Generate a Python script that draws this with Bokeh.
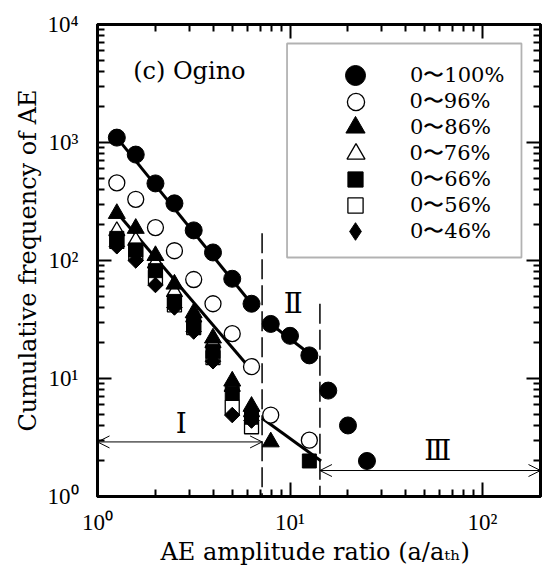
from bokeh.plotting import figure
from bokeh.models import (LogAxis, FixedTicker, CustomJSTickFormatter, Legend, LegendItem,
                          Label, Arrow, OpenHead, Range1d, BoxAnnotation)
from bokeh.embed import file_html
from bokeh.resources import INLINE
import math

FONT = "DejaVu Serif"
TICKFONT = "Liberation Serif"

# ---- data ----
s100_x = [1.26, 1.58, 2.0, 2.51, 3.16, 3.98, 5.01, 6.31, 7.94, 10.0, 12.6, 15.8, 20.0, 25.1]
s100_y = [1100, 790, 450, 305, 180, 117, 70, 43, 29, 23, 15.7, 7.9, 4.0, 2.0]

s96_x = [1.26, 1.58, 2.0, 2.51, 3.16, 3.98, 5.01, 6.31, 7.94, 12.6]
s96_y = [455, 330, 190, 121, 69, 43, 24, 12.6, 4.9, 3.0]

s86_x = [1.26, 1.58, 2.0, 2.51, 3.16, 3.98, 5.01, 6.31, 7.94]
s86_y = [250, 187, 110, 63, 36, 22, 9.5, 5.8, 2.9]

s76_x = [1.26, 1.58, 2.0, 2.51, 3.16, 3.98, 5.01, 6.31]
s76_y = [178, 147, 95, 54, 33, 20, 8.5, 5.2]

s66_x = [1.26, 1.58, 2.0, 2.51, 3.16, 3.98, 5.01, 6.31, 12.6]
s66_y = [154, 123, 82, 45, 29, 17, 7.5, 4.7, 2.0]

s56_x = [1.26, 1.58, 2.0, 2.51, 3.16, 3.98, 5.01, 6.31]
s56_y = [145, 115, 72, 42, 27, 15, 5.7, 3.9]

s46_x = [1.26, 1.58, 2.0, 2.51, 3.16, 3.98, 5.01, 6.31]
s46_y = [132, 100, 62, 40, 25, 14, 4.9, 4.4]

series_labels = ["0〜100%", "0〜96%", "0〜86%", "0〜76%", "0〜66%", "0〜56%", "0〜46%"]

# fitted lines
fit_I_upper_x = [1.26, 6.31]
fit_I_upper_y = [1100, 43]
fit_II_upper_x = [7.94, 13.8]
fit_II_upper_y = [29, 14.5]
fit_I_lower_x = [1.26, 5.85]
fit_I_lower_y = [255, 13.6]
fit_II_lower_x = [7.16, 14.5]
fit_II_lower_y = [4.6, 2.0]

# region boundaries (dashed) and their top ends
bound_x = [7.16, 14.3]
bound_top = [170, 43]

x_major = [1, 10, 100]
y_major = [1, 10, 100, 1000, 10000]

# ---- figure ----
FL, FT, FR, FB = 97, 24, 13, 74
p = figure(width=553, height=570, x_axis_type="log", y_axis_type="log",
           x_range=Range1d(1, 200), y_range=Range1d(1, 1e4),
           output_backend="svg", toolbar_location=None,
           min_border_left=FL, min_border_right=FR, min_border_top=FT, min_border_bottom=FB)
p.grid.visible = False
p.outline_line_color = "black"
p.outline_line_width = 3
p.background_fill_color = "white"
p.border_fill_color = "white"

x_minor = [m * 10 ** e for e in range(0, 3) for m in range(2, 10) if m * 10 ** e <= 200]
y_minor = [m * 10 ** e for e in range(0, 4) for m in range(2, 10)]

sup_fmt = CustomJSTickFormatter(code="const s='⁰¹²³⁴⁵⁶⁷⁸⁹'; const e=Math.round(Math.log10(tick)); return '10'+s[e];")


def style(ax, labels=True):
    ax.axis_line_width = 3
    ax.axis_line_color = "black"
    ax.major_tick_in = 14
    ax.major_tick_out = 0
    ax.minor_tick_in = 7
    ax.minor_tick_out = 0
    ax.major_tick_line_width = 2
    ax.minor_tick_line_width = 2
    ax.major_tick_line_color = "black"
    ax.minor_tick_line_color = "black"
    if labels:
        ax.major_label_text_font = TICKFONT
        ax.major_label_text_font_size = "23px"
        ax.major_label_text_color = "black"
    else:
        ax.major_label_text_font_size = "1px"
        ax.major_label_standoff = 0
        ax.major_label_text_alpha = 0


p.xaxis.ticker = FixedTicker(ticks=x_major, minor_ticks=x_minor)
p.yaxis.ticker = FixedTicker(ticks=y_major, minor_ticks=y_minor)
p.xaxis.formatter = sup_fmt
p.yaxis.formatter = sup_fmt
style(p.xaxis[0])
style(p.yaxis[0])
p.xaxis.major_label_standoff = 13
p.yaxis.major_label_standoff = 19
p.yaxis.axis_label = "Cumulative frequency of AE"
p.xaxis.axis_label = "AE amplitude ratio  (a/aₜₕ)"
for ax in (p.xaxis[0], p.yaxis[0]):
    ax.axis_label_text_font = FONT
    ax.axis_label_text_font_size = "24px"
    ax.axis_label_text_font_style = "normal"
    ax.axis_label_text_color = "black"
p.yaxis.axis_label_standoff = 2
p.xaxis.axis_label_standoff = 0

top_ax = LogAxis(ticker=FixedTicker(ticks=x_major, minor_ticks=x_minor),
                 formatter=CustomJSTickFormatter(code="return '';"))
right_ax = LogAxis(ticker=FixedTicker(ticks=y_major, minor_ticks=y_minor),
                   formatter=CustomJSTickFormatter(code="return '';"))
style(top_ax, labels=False)
style(right_ax, labels=False)
p.add_layout(top_ax, "above")
p.add_layout(right_ax, "right")

# dashed region boundaries
for bx, bt in zip(bound_x, bound_top):
    p.line([bx, bx], [bt, 1], line_color="black", line_width=1.5, line_dash="20 6")

# fitted lines
for fx, fy in [(fit_I_upper_x, fit_I_upper_y), (fit_II_upper_x, fit_II_upper_y),
               (fit_I_lower_x, fit_I_lower_y), (fit_II_lower_x, fit_II_lower_y)]:
    p.line(fx, fy, line_color="black", line_width=3)

# markers (draw order chosen so stacked points overlap as in the reference)
DIAMOND = math.pi / 4
r100 = p.scatter(s100_x, s100_y, marker="circle", size=17, fill_color="black", line_color="black")
r96 = p.scatter(s96_x, s96_y, marker="circle", size=16, fill_color="white", line_color="black", line_width=1.3)
r76 = p.scatter(s76_x, s76_y, marker="triangle", size=16, fill_color="white", line_color="black", line_width=1.3)
r86 = p.scatter(s86_x, s86_y, marker="triangle", size=17, fill_color="black", line_color="black")
r56 = p.scatter(s56_x, s56_y, marker="square", size=14, fill_color="white", line_color="black", line_width=1.3)
r66 = p.scatter(s66_x, s66_y, marker="square", size=14, fill_color="black", line_color="black")
# diamonds: a diamond marker (used for the legend key) covered by a square turned 45 degrees
r46 = p.scatter(s46_x, s46_y, marker="diamond", size=14, fill_color="black", line_color="black")
p.scatter(s46_x, s46_y, marker="square", angle=DIAMOND, size=11, fill_color="black", line_color="black")
legend_renderers = [r100, r96, r86, r76, r66, r56, r46]

# legend: frame box + one single-item legend per row (so each row keeps its own glyph size)
p.add_layout(BoxAnnotation(left=9.65, right=159.3, bottom=106, top=6900,
                           fill_color="white", fill_alpha=1.0,
                           line_color="black", line_width=1.8, level="underlay"))
legend_glyph = [50, 43, 48, 45, 38, 38, 44]
row_center = [75, 101, 127, 153, 179, 205, 231]   # rows, px from the page top
glyph_cx, label_x = 355, 410
frame_bottom = FT + 472
for lab_txt, r, g, cy in zip(series_labels, legend_renderers, legend_glyph, row_center):
    lg = Legend(items=[LegendItem(label=lab_txt, renderers=[r])],
                location=(glyph_cx - g / 2 - FL, frame_bottom - (cy + g / 2)),
                glyph_width=g, glyph_height=g, padding=0, spacing=0, margin=0,
                label_standoff=int(label_x - glyph_cx - g / 2), label_height=20,
                label_text_font=FONT, label_text_font_size="21px", label_text_color="black",
                border_line_color=None, background_fill_alpha=0.0)
    p.add_layout(lg)

# arrows for regions
p.add_layout(Arrow(start=OpenHead(size=12, line_width=1), end=OpenHead(size=12, line_width=1),
                   x_start=1, y_start=2.9, x_end=bound_x[0], y_end=2.9, line_width=1))
p.add_layout(Arrow(start=OpenHead(size=12, line_width=1), end=OpenHead(size=12, line_width=1),
                   x_start=bound_x[1], y_start=1.66, x_end=200, y_end=1.66, line_width=1))


# texts
def lab(x, y, t, size="28px", align="center", baseline="middle", font=FONT):
    p.add_layout(Label(x=x, y=y, text=t, text_font=font, text_font_size=size,
                       text_align=align, text_baseline=baseline, text_color="black"))


lab(3.0, 4074, "(c) Ogino", size="24px")
lab(2.72, 4.15, "Ⅰ")
lab(10.4, 43.2, "Ⅱ")
lab(58.5, 2.45, "Ⅲ")

open("out.html", "w").write(file_html(p, INLINE))
